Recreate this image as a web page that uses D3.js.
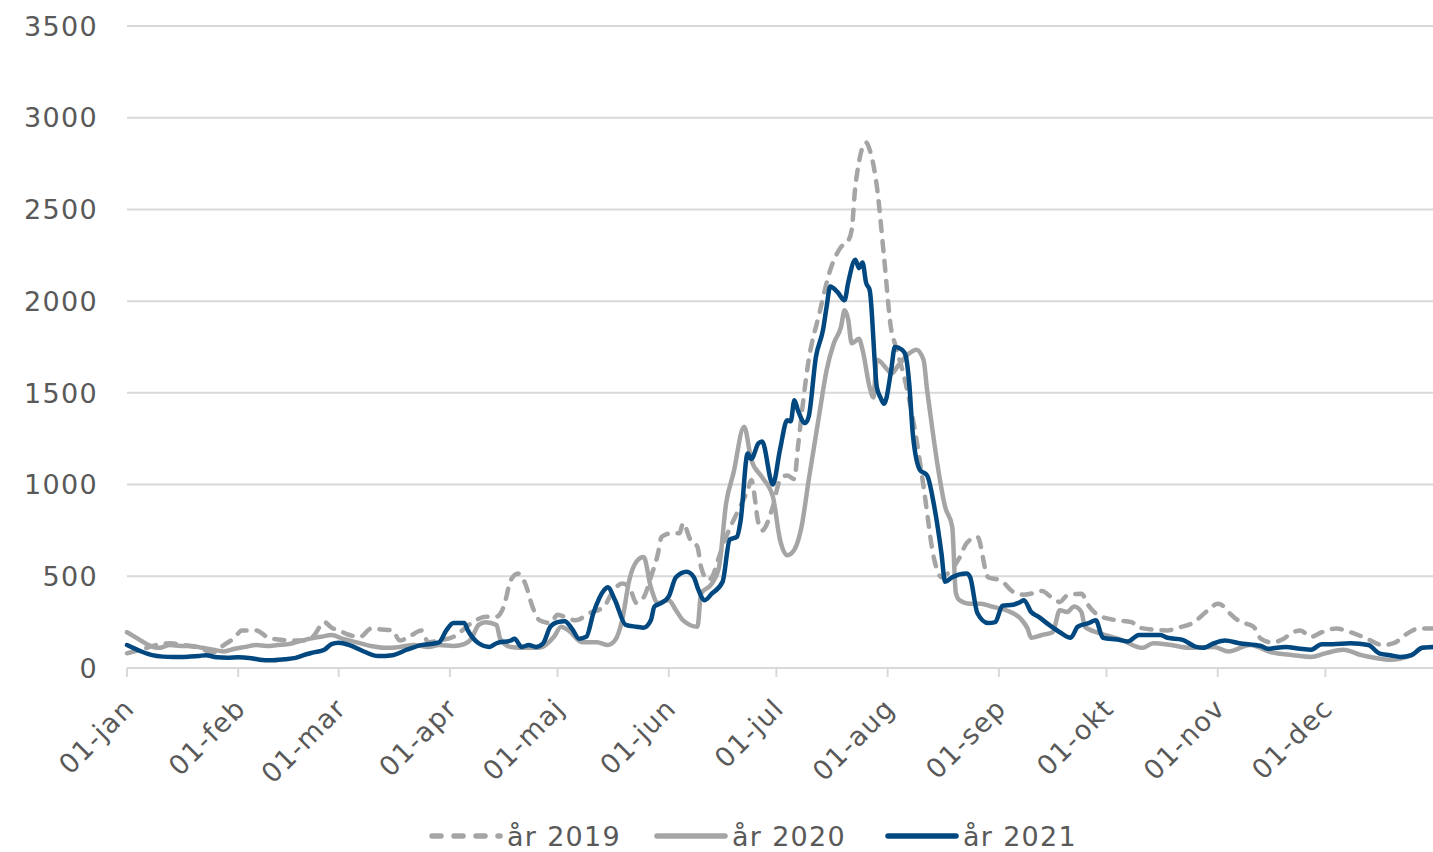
<!DOCTYPE html>
<html>
<head>
<meta charset="utf-8">
<script src="https://cdn.jsdelivr.net/npm/d3@7/dist/d3.min.js"></script>
<style>
  body { margin: 0; background: #fff; }
  text { font-family: "DejaVu Sans", sans-serif; fill: #595959; letter-spacing: 1.3px; }
</style>
</head>
<body>
<svg width="1433" height="852"></svg>
<script>
// day of year (0 = 1 jan) and value
var series2019 = [[0,80],[4,100],[8,125],[12,135],[16,125],[20,110],[24,85],[27,125],[30,165],[32,205],[36,205],[39,170],[42,155],[46,150],[49,150],[52,175],[55,250],[57,220],[59,205],[62,180],[65,170],[68,215],[71,210],[74,205],[76,150],[79,175],[82,205],[84,140],[87,150],[91,170],[96,245],[100,280],[103,280],[105,335],[107,480],[109,515],[111,460],[113,335],[115,260],[118,245],[120,290],[123,270],[125,260],[129,300],[133,335],[135,405],[138,460],[140,440],[142,355],[144,385],[146,495],[148,625],[149,715],[152,735],[154,735],[155,790],[157,700],[159,660],[160,550],[162,480],[163,495],[165,605],[167,715],[170,845],[173,970],[174,1025],[176,790],[177,750],[180,880],[182,1025],[184,1050],[186,1030],[187,1205],[190,1680],[193,1935],[196,2170],[199,2295],[201,2330],[202,2390],[203,2625],[206,2865],[207,2825],[209,2625],[211,2240],[213,1845],[214,1770],[217,1555],[220,1250],[222,990],[225,590],[227,495],[229,520],[232,600],[234,680],[237,715],[240,495],[243,480],[244,470],[247,415],[250,400],[253,410],[255,420],[258,380],[260,360],[262,395],[266,405],[268,340],[271,285],[276,260],[280,250],[282,220],[290,205],[293,220],[297,245],[301,310],[304,350],[305,345],[307,305],[310,255],[314,225],[316,160],[319,140],[322,155],[325,195],[327,205],[330,170],[333,195],[337,215],[341,195],[345,165],[350,125],[353,135],[357,190],[360,215],[364,215]];

var series2020 = [[0,195],[3,160],[6,125],[9,110],[12,125],[15,120],[18,120],[21,110],[24,100],[27,90],[30,105],[33,115],[36,125],[39,120],[42,125],[45,130],[48,145],[51,160],[54,170],[57,180],[60,160],[64,140],[68,120],[72,110],[76,115],[80,125],[84,115],[87,125],[91,120],[94,130],[96,160],[98,235],[100,250],[103,235],[104,160],[107,115],[111,110],[115,110],[119,170],[121,225],[123,205],[127,140],[131,140],[134,125],[136,150],[138,260],[140,480],[142,580],[144,605],[146,440],[148,355],[151,370],[153,315],[155,260],[159,225],[160,405],[163,460],[165,550],[167,900],[169,1060],[172,1315],[174,1135],[177,1040],[180,935],[182,700],[184,615],[186,645],[188,770],[190,1025],[193,1390],[195,1625],[197,1770],[199,1860],[200,1950],[201,1900],[202,1770],[204,1795],[205,1735],[207,1530],[208,1475],[209,1680],[212,1625],[213,1605],[215,1650],[218,1715],[220,1735],[222,1680],[223,1515],[224,1370],[226,1095],[228,880],[230,770],[231,410],[232,370],[235,350],[238,350],[241,335],[245,315],[249,270],[251,215],[252,165],[255,180],[258,195],[260,315],[262,305],[264,335],[266,305],[267,225],[271,190],[277,155],[283,110],[286,135],[291,125],[296,110],[303,115],[307,90],[313,125],[319,85],[325,70],[330,60],[334,80],[339,100],[344,70],[348,55],[352,45],[358,70],[361,110],[364,115]];

var series2021 = [[0,125],[4,90],[7,70],[10,62],[13,60],[17,62],[20,65],[22,70],[25,58],[28,56],[31,58],[34,55],[37,45],[40,42],[44,48],[47,55],[50,75],[52,85],[55,100],[57,130],[59,138],[62,125],[66,90],[70,65],[74,70],[78,100],[82,125],[86,135],[87,140],[89,205],[91,245],[94,245],[95,205],[98,135],[101,115],[103,135],[107,150],[108,160],[110,115],[112,125],[114,115],[116,135],[118,225],[120,250],[122,255],[124,215],[126,160],[128,170],[130,300],[133,425],[134,440],[136,370],[139,235],[142,225],[144,220],[146,260],[147,335],[149,355],[151,390],[153,495],[156,525],[158,495],[159,440],[161,370],[163,405],[166,470],[168,700],[170,715],[171,800],[173,1170],[174,1140],[176,1225],[177,1235],[180,1000],[182,1190],[184,1350],[185,1345],[186,1460],[187,1405],[189,1335],[190,1370],[192,1695],[194,1845],[195,1970],[196,2080],[198,2050],[200,2005],[201,2100],[203,2225],[204,2180],[205,2210],[206,2100],[207,2060],[209,1530],[210,1475],[211,1440],[213,1625],[214,1750],[216,1735],[217,1705],[218,1555],[219,1280],[221,1080],[223,1050],[225,880],[227,625],[228,470],[230,495],[234,515],[235,495],[237,300],[240,245],[242,250],[244,340],[247,345],[249,360],[250,370],[252,305],[254,280],[257,235],[260,195],[263,165],[265,225],[268,245],[270,260],[272,165],[276,155],[279,145],[282,180],[288,180],[290,165],[294,155],[298,115],[300,110],[303,135],[306,150],[310,135],[316,120],[318,105],[323,115],[327,105],[330,100],[333,130],[336,130],[341,135],[346,125],[349,80],[352,70],[355,60],[358,70],[361,110],[364,115]];

var monthStarts = [0, 31, 59, 90, 120, 151, 181, 212, 243, 273, 304, 334];
var monthLabels = ["01-jan", "01-feb", "01-mar", "01-apr", "01-maj", "01-jun", "01-jul", "01-aug", "01-sep", "01-okt", "01-nov", "01-dec"];
var yTicks = [0, 500, 1000, 1500, 2000, 2500, 3000, 3500];
var legendLabels = ["år 2019", "år 2020", "år 2021"];

var svg = d3.select("svg"),
    width = +svg.attr("width"),
    height = +svg.attr("height");

var x = d3.scaleLinear().domain([0, 364]).range([127, 1433]);
var y = d3.scaleLinear().domain([0, 3500]).range([668, 26]);

var grid = svg.append("g").attr("class", "grid");
grid.selectAll("line")
    .data(yTicks)
    .enter().append("line")
      .attr("x1", x(0))
      .attr("x2", x(364))
      .attr("y1", function(d) { return y(d); })
      .attr("y2", function(d) { return y(d); })
      .attr("stroke", "#d9d9d9")
      .attr("stroke-width", 2);

svg.append("g")
  .selectAll("text")
  .data(yTicks)
  .enter().append("text")
    .attr("x", 98)
    .attr("y", function(d) { return y(d); })
    .attr("dy", "0.36em")
    .attr("text-anchor", "end")
    .attr("font-size", "27px")
    .text(function(d) { return d; });

svg.append("g")
  .selectAll("line")
  .data(monthStarts)
  .enter().append("line")
    .attr("x1", function(d) { return x(d); })
    .attr("x2", function(d) { return x(d); })
    .attr("y1", y(0))
    .attr("y2", y(0) + 9)
    .attr("stroke", "#d9d9d9")
    .attr("stroke-width", 2);

svg.append("g")
  .selectAll("text")
  .data(monthStarts)
  .enter().append("text")
    .attr("transform", function(d) { return "translate(" + (x(d) + 9) + "," + 710 + ") rotate(-45)"; })
    .attr("text-anchor", "end")
    .attr("font-size", "27px")
    .text(function(d, i) { return monthLabels[i]; });

var line = d3.line()
    .x(function(d) { return x(d[0]); })
    .y(function(d) { return y(d[1]); })
    .curve(d3.curveMonotoneX);

var styles = [
  { data: series2019, color: "#a5a5a5", dash: "10,10" },
  { data: series2020, color: "#a5a5a5", dash: null },
  { data: series2021, color: "#00487f", dash: null }
];

svg.append("g")
  .selectAll("path")
  .data(styles)
  .enter().append("path")
    .attr("d", function(d) { return line(d.data); })
    .attr("fill", "none")
    .attr("stroke", function(d) { return d.color; })
    .attr("stroke-width", 4.5)
    .attr("stroke-linejoin", "round")
    .attr("stroke-linecap", "round")
    .attr("stroke-dasharray", function(d) { return d.dash; });

// legend
var legendX = [432, 657, 888];
var legend = svg.append("g")
  .selectAll("g")
  .data(styles)
  .enter().append("g")
    .attr("transform", function(d, i) { return "translate(" + legendX[i] + ",836)"; });

legend.append("line")
    .attr("x1", 0)
    .attr("x2", 68)
    .attr("stroke", function(d) { return d.color; })
    .attr("stroke-width", 5.5)
    .attr("stroke-linecap", "round")
    .attr("stroke-dasharray", function(d) { return d.dash ? "9,13" : null; });

legend.append("text")
    .attr("x", 75)
    .attr("dy", "0.36em")
    .attr("font-size", "27px")
    .text(function(d, i) { return legendLabels[i]; });
</script>
</body>
</html>
